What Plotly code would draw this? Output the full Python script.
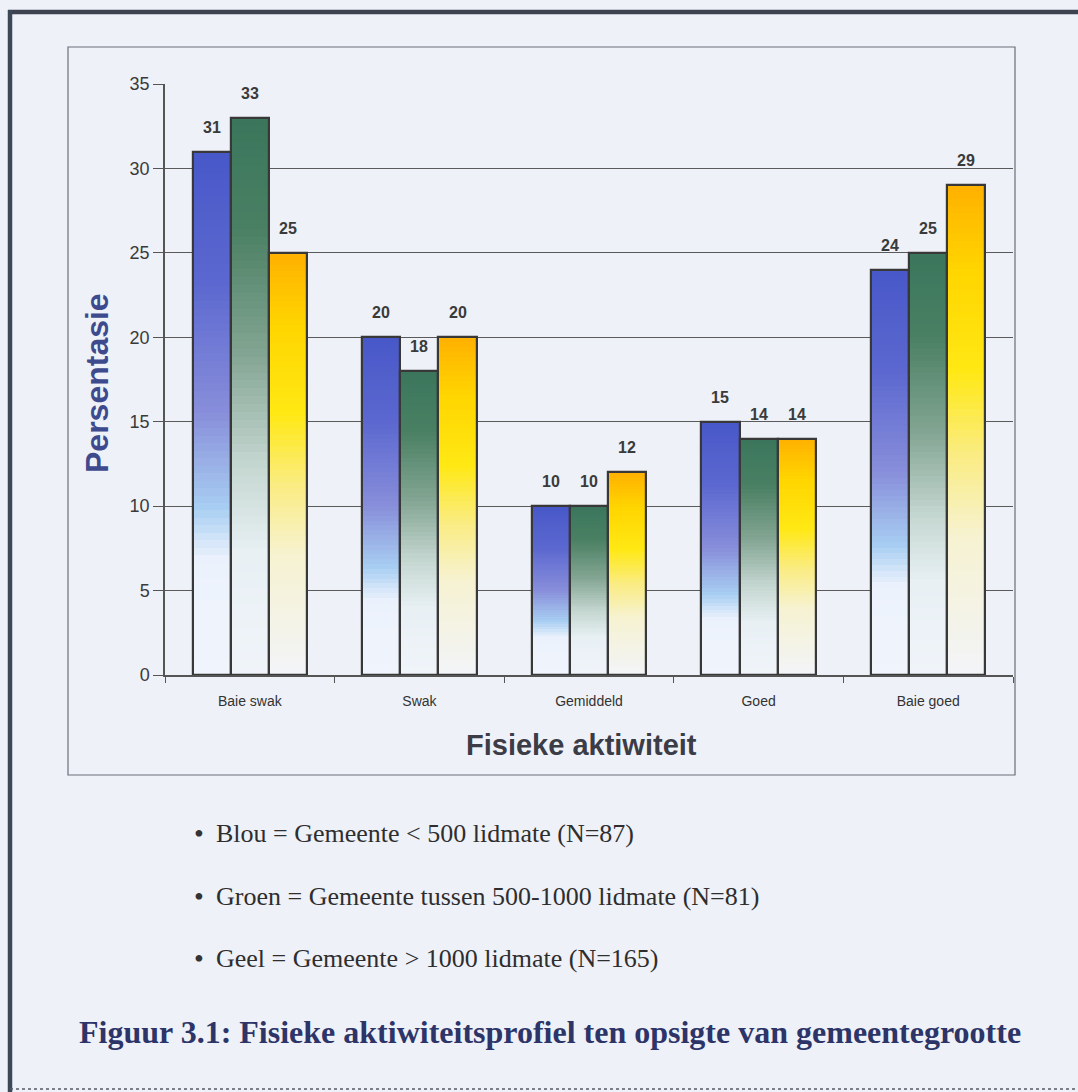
import plotly.graph_objects as go

# Fisieke aktiwiteit per gemeentegrootte (persentasie)
categories = ["Baie swak", "Swak", "Gemiddeld", "Goed", "Baie goed"]
blou = [31, 20, 10, 15, 24]     # Gemeente < 500 lidmate
groen = [33, 18, 10, 14, 25]    # Gemeente 500-1000 lidmate
geel = [25, 20, 12, 14, 29]     # Gemeente > 1000 lidmate
y_ticks = [0, 5, 10, 15, 20, 25, 30, 35]

legend_lines = [
    "Blou = Gemeente &lt; 500 lidmate (N=87)",
    "Groen = Gemeente tussen 500-1000 lidmate (N=81)",
    "Geel = Gemeente &gt; 1000 lidmate (N=165)",
]
caption = "Figuur 3.1: Fisieke aktiwiteitsprofiel ten opsigte van gemeentegrootte"

# gradient stops: (fraction of bar height from the bottom, rgb)
grad_blou = [(0.0, (240, 244, 252)), (0.22, (236, 242, 252)), (0.32, (168, 206, 242)),
             (0.5, (136, 142, 218)), (0.75, (92, 104, 208)), (1.0, (72, 88, 200))]
grad_groen = [(0.0, (240, 244, 250)), (0.22, (232, 240, 244)), (0.38, (196, 214, 208)),
              (0.58, (130, 164, 146)), (0.8, (74, 128, 100)), (1.0, (58, 118, 92))]
grad_geel = [(0.0, (242, 244, 248)), (0.28, (246, 242, 210)), (0.45, (250, 236, 130)),
             (0.62, (255, 232, 20)), (0.82, (255, 214, 0)), (1.0, (255, 176, 0))]

N_SEG = 70
BAR_W = 0.225
PAGE = "#eef1f8"


def lerp_color(stops, t):
    for (t0, c0), (t1, c1) in zip(stops[:-1], stops[1:]):
        if t0 <= t <= t1:
            f = (t - t0) / (t1 - t0) if t1 > t0 else 0
            r, g, b = (round(a + (b_ - a) * f) for a, b_ in zip(c0, c1))
            return f"rgb({r},{g},{b})"
    r, g, b = stops[-1][1]
    return f"rgb({r},{g},{b})"


fig = go.Figure()

series = [(blou, grad_blou, -1.5 * BAR_W), (groen, grad_groen, -0.5 * BAR_W),
          (geel, grad_geel, 0.5 * BAR_W)]

# gradient fill: each bar is a stack of thin slices shaded bottom to top
for values, stops, off in series:
    xs, bases, heights, colors = [], [], [], []
    for cat, v in zip(categories, values):
        step = v / N_SEG
        for i in range(N_SEG):
            xs.append(cat)
            bases.append(i * step)
            heights.append(step * 1.02)
            colors.append(lerp_color(stops, (i + 0.5) / N_SEG))
    fig.add_trace(go.Bar(
        x=xs, y=heights, base=bases, width=BAR_W, offset=off,
        marker=dict(color=colors, line=dict(width=0)),
        hoverinfo="skip", showlegend=False,
    ))

# bar outlines
for values, stops, off in series:
    fig.add_trace(go.Bar(
        x=categories, y=values, width=BAR_W, offset=off,
        marker=dict(color="rgba(0,0,0,0)", line=dict(color="#383838", width=2.2)),
        showlegend=False,
    ))

# plot area geometry in pixels
L, R, T, B = 165, 1013, 84, 675
W_FIG, H_FIG = 1078, 1092


def px(x):
    return (x - L) / (R - L)


def py(y):
    return (B - y) / (B - T)


shapes = [
    # chart frame
    dict(type="rect", xref="paper", yref="paper", x0=px(68), x1=px(1015), y0=py(775), y1=py(47),
         line=dict(color="#6a6e78", width=1.2), layer="below"),
    # page frame
    dict(type="line", xref="paper", yref="paper", x0=px(8), x1=px(1080), y0=py(12), y1=py(12),
         line=dict(color="#3c4250", width=4.5)),
    dict(type="line", xref="paper", yref="paper", x0=px(10), x1=px(10), y0=py(10), y1=py(1092),
         line=dict(color="#3c4856", width=4.5)),
    dict(type="line", xref="paper", yref="paper", x0=px(10), x1=px(1080), y0=py(1089), y1=py(1089),
         line=dict(color="#555a64", width=1.5, dash="dot")),
]

annotations = [
    dict(text="<b>Persentasie</b>", xref="paper", yref="paper", x=px(97), y=py(383),
         xanchor="center", yanchor="middle", textangle=-90, showarrow=False,
         font=dict(family="Liberation Sans", size=32, color="#3d4b8e")),
    dict(text="<b>Fisieke aktiwiteit</b>", xref="paper", yref="paper", x=px(581), y=py(745),
         xanchor="center", yanchor="middle", showarrow=False,
         font=dict(family="Liberation Sans", size=29, color="#3c3c46")),
    dict(text="<b>" + caption + "</b>", xref="paper", yref="paper", x=px(550), y=py(1032),
         xanchor="center", yanchor="middle", showarrow=False,
         font=dict(family="Liberation Serif", size=32, color="#2d3468")),
]

# value labels above each bar
for values, _, off in series:
    shift = (off + BAR_W / 2) * (R - L) / len(categories)
    for cat, v in zip(categories, values):
        annotations.append(dict(
            text=f"<b>{v}</b>", x=cat, y=v, xref="x", yref="y", xshift=shift, yshift=14,
            xanchor="center", yanchor="bottom", showarrow=False,
            font=dict(family="Liberation Sans", size=16, color="#3a3a3a"),
        ))

for line_text, ypos in zip(legend_lines, [833, 896, 958]):
    annotations.append(dict(text="•", xref="paper", yref="paper", x=px(199), y=py(ypos),
                            xanchor="center", yanchor="middle", showarrow=False,
                            font=dict(family="Liberation Serif", size=28, color="#333")))
    annotations.append(dict(text=line_text, xref="paper", yref="paper", x=px(214), y=py(ypos),
                            xanchor="left", yanchor="middle", showarrow=False,
                            font=dict(family="Liberation Serif", size=26, color="#2e2e2e")))

fig.update_layout(
    width=W_FIG, height=H_FIG,
    margin=dict(l=L, r=W_FIG - R, t=T, b=H_FIG - B, pad=0),
    paper_bgcolor=PAGE, plot_bgcolor=PAGE,
    barmode="overlay", bargap=0,
    shapes=shapes, annotations=annotations,
    xaxis=dict(
        type="category", categoryorder="array", categoryarray=categories,
        tickson="boundaries", ticks="outside", ticklen=6, tickcolor="#555",
        showline=True, linecolor="#555", linewidth=1.5, showgrid=False,
        tickfont=dict(family="Liberation Sans", size=14, color="#333333"),
        ticklabelstandoff=12,
    ),
    yaxis=dict(
        range=[0, 35], tickvals=y_ticks, ticks="outside", ticklen=10, tickcolor="#555",
        showline=True, linecolor="#555", linewidth=1.5,
        showgrid=True, gridcolor="#5a5a5a", gridwidth=1, zeroline=False,
        tickfont=dict(family="Liberation Sans", size=18, color="#3a3a3a"),
    ),
)

fig.write_html("out.html")
